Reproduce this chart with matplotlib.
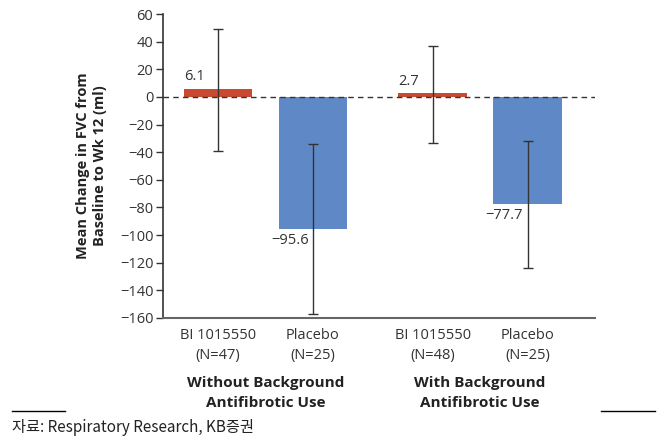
import matplotlib.pyplot as plt
import numpy as np

plt.rcParams['font.family'] = ['Open Sans', 'Noto Sans CJK KR', 'DejaVu Sans']

arms = ['BI 1015550\n(N=47)', 'Placebo\n(N=25)', 'BI 1015550\n(N=48)', 'Placebo\n(N=25)']
means = [6.1, -95.6, 2.7, -77.7]
ci_low = [-39, -157, -33, -124]
ci_high = [49, -34, 37, -32]
labels = ['6.1', '\u221295.6', '2.7', '\u221277.7']
groups = ['Without Background\nAntifibrotic Use', 'With Background\nAntifibrotic Use']

pos = np.array([0, 1, 2.26, 3.26])
colors = ['#c94a30', '#5e88c6', '#c94a30', '#5e88c6']
width = 0.72

fig = plt.figure(figsize=(6.61, 4.41), dpi=100)
ax = fig.add_axes([0.2466, 0.279, 0.6534, 0.689])

ax.bar(pos, means, width=width, color=colors, zorder=2)
yerr = [np.array(means) - np.array(ci_low), np.array(ci_high) - np.array(means)]
ax.errorbar(pos, means, yerr=yerr, fmt='none', ecolor='#333333', elinewidth=1.0,
            capsize=3.5, capthick=1.0, zorder=4)
ax.axhline(0, color='#333333', linestyle=(0, (4, 3)), linewidth=1.0, zorder=3)

for p, m, t in zip(pos, means, labels):
    if m > 0:
        ax.text(p - width / 2, m + 3, t, ha='left', va='bottom', fontsize=10.5, color='#333333')
    else:
        ax.text(p - width / 2 - 0.08, m - 3, t, ha='left', va='top', fontsize=10.5, color='#333333')

ax.set_xlim(-0.58, 3.97)
ax.set_ylim(-160, 60)
ax.set_yticks(np.arange(-160, 61, 20))
ax.set_yticklabels([str(v).replace('-', '\u2212') for v in range(-160, 61, 20)],
                   fontsize=10.5, color='#333333')
ax.set_xticks(pos)
ax.set_xticklabels(arms, fontsize=10.5, color='#333333', linespacing=1.5)
ax.tick_params(axis='x', length=0, pad=7)
ax.tick_params(axis='y', length=5, width=1, color='#333333', pad=2)

for s in ['top', 'right']:
    ax.spines[s].set_visible(False)
ax.spines['left'].set_color('#333333')
ax.spines['bottom'].set_color('#666666')
ax.spines['bottom'].set_linewidth(1.5)
ax.spines['left'].set_linewidth(1.2)

ax.set_ylabel('Mean Change in FVC from\nBaseline to Wk 12 (ml)', fontsize=10.5,
              fontweight='bold', color='#222222', labelpad=9, linespacing=1.3)

for gx, g in zip([(pos[0] + pos[1]) / 2, (pos[2] + pos[3]) / 2], groups):
    ax.annotate(g, xy=(gx, -160), xycoords='data', xytext=(0, -42),
                textcoords='offset points', ha='center', va='top', fontsize=11,
                fontweight='bold', color='#222222', linespacing=1.5)

fig.add_artist(plt.Line2D([12 / 661, 65 / 661], [1 - 411 / 441] * 2, color='black', lw=1))
fig.add_artist(plt.Line2D([601 / 661, 655 / 661], [1 - 411 / 441] * 2, color='black', lw=1))
fig.text(12 / 661, 1 - 428 / 441, '자료: Respiratory Research, KB증권', fontsize=11,
         va='center', ha='left', family=['Noto Sans CJK KR', 'DejaVu Sans'], color='#222222')

fig.savefig('out.png', dpi=100)
